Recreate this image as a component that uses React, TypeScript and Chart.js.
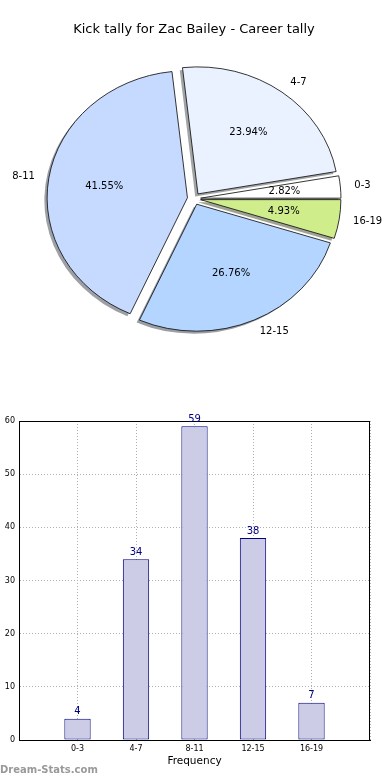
import React, { useEffect, useRef } from 'react';
import { Chart, registerables } from 'chart.js';

Chart.register(...registerables);

const TITLE = 'Kick tally for Zac Bailey - Career tally';
const CATEGORIES = ['0-3', '4-7', '8-11', '12-15', '16-19'];
const KICKS = [4, 34, 59, 38, 7];
const PIE_COLORS = ['#ffffff', '#eaf2ff', '#c6d9ff', '#b3d5ff', '#d0ed8c'];
const Y_TICKS = [0, 10, 20, 30, 40, 50, 60];
const X_TITLE = 'Frequency';
const WATERMARK = 'Dream-Stats.com';

const FONT = 'DejaVu Sans';
const SX = 1.105; // horizontal stretch of the pie (elliptical, as in the source)
const EXPLODE = 6;
const SHADOW_DX = -2.5;
const SHADOW_DY = 2.5;

function shadowColor(hex: string) {
  const n = parseInt(hex.slice(1), 16);
  const r = Math.round(((n >> 16) & 255) * 0.3);
  const g = Math.round(((n >> 8) & 255) * 0.3);
  const b = Math.round((n & 255) * 0.3);
  return `rgba(${r},${g},${b},0.5)`;
}

// pie is drawn clockwise in Chart.js, matplotlib draws counter-clockwise
const PIE_LABELS = [...CATEGORIES].reverse();
const PIE_VALUES = [...KICKS].reverse();
const PIE_BG = [...PIE_COLORS].reverse();

const piePlugin = {
  id: 'pieDraw',
  beforeDatasetsDraw(chart: any) {
    const ctx = chart.ctx;
    const arcs = chart.getDatasetMeta(0).data;
    if (!arcs.length) return false;
    const cx = arcs[0].x;
    const cy = arcs[0].y;
    ctx.save();
    ctx.translate(cx, cy);
    ctx.scale(SX, 1);
    ctx.translate(-cx, -cy);
    arcs.forEach((arc: any, i: number) => {
      const mid = (arc.startAngle + arc.endAngle) / 2;
      const ox = EXPLODE * Math.cos(mid) + SHADOW_DX;
      const oy = EXPLODE * Math.sin(mid) + SHADOW_DY;
      ctx.beginPath();
      ctx.moveTo(arc.x + ox, arc.y + oy);
      ctx.arc(arc.x + ox, arc.y + oy, arc.outerRadius, arc.startAngle, arc.endAngle);
      ctx.closePath();
      ctx.fillStyle = shadowColor(PIE_BG[i]);
      ctx.fill();
    });
    arcs.forEach((arc: any) => {
      const mid = (arc.startAngle + arc.endAngle) / 2;
      ctx.save();
      ctx.translate(EXPLODE * Math.cos(mid), EXPLODE * Math.sin(mid));
      arc.draw(ctx);
      ctx.restore();
    });
    ctx.restore();
    return false;
  },
  afterDraw(chart: any) {
    const ctx = chart.ctx;
    const arcs = chart.getDatasetMeta(0).data;
    const total = PIE_VALUES.reduce((a, b) => a + b, 0);
    ctx.save();
    ctx.font = `10px "${FONT}"`;
    ctx.fillStyle = '#000';
    ctx.textBaseline = 'middle';
    arcs.forEach((arc: any, i: number) => {
      const cx = arc.x;
      const cy = arc.y;
      const mid = (arc.startAngle + arc.endAngle) / 2;
      const c = Math.cos(mid);
      const s = Math.sin(mid);
      const r = arc.outerRadius;
      const px = (k: number) => cx + SX * (EXPLODE * c + k * r * c);
      const py = (k: number) => cy + EXPLODE * s + k * r * s;
      ctx.textAlign = 'center';
      ctx.fillText(((PIE_VALUES[i] / total) * 100).toFixed(2) + '%', px(0.6), py(0.6));
      ctx.textAlign = c > 0 ? 'left' : 'right';
      ctx.fillText(PIE_LABELS[i], px(1.1), py(1.1));
    });
    ctx.restore();
  },
};

const barPlugin = {
  id: 'barExtras',
  afterDraw(chart: any) {
    const ctx = chart.ctx;
    const { left, right, top, bottom } = chart.chartArea;
    ctx.save();
    ctx.strokeStyle = '#000';
    ctx.lineWidth = 1;
    ctx.strokeRect(Math.round(left) + 0.5, Math.round(top) + 0.5, Math.round(right - left) - 1, Math.round(bottom - top));
    const bars = chart.getDatasetMeta(0).data;
    ctx.font = `10px "${FONT}"`;
    ctx.fillStyle = '#000080';
    ctx.textAlign = 'center';
    ctx.textBaseline = 'bottom';
    bars.forEach((bar: any, i: number) => {
      ctx.fillText(String(KICKS[i]), bar.x, bar.y - 2);
    });
    ctx.font = `bold 10px "${FONT}"`;
    ctx.fillStyle = '#999999';
    ctx.textAlign = 'left';
    ctx.textBaseline = 'middle';
    ctx.fillText(WATERMARK, 0, chart.height - 10);
    ctx.restore();
  },
};

export default function App() {
  const pieRef = useRef<HTMLCanvasElement>(null);
  const barRef = useRef<HTMLCanvasElement>(null);

  useEffect(() => {
    const pie = new Chart(pieRef.current as HTMLCanvasElement, {
      type: 'pie',
      data: {
        labels: PIE_LABELS,
        datasets: [
          {
            data: PIE_VALUES,
            backgroundColor: PIE_BG,
            borderColor: '#111',
            borderWidth: 0.8,
            offset: 0,
          },
        ],
      },
      options: {
        responsive: false,
        animation: false,
        events: [],
        rotation: 90,
        radius: 127,
        layout: { padding: { top: 0, left: 0, right: 2, bottom: 40.4 } },
        plugins: {
          legend: { display: false },
          tooltip: { enabled: false },
          title: {
            display: true,
            text: TITLE,
            color: '#000',
            font: { family: FONT, size: 13, weight: 'normal' },
            padding: { top: 22.2, bottom: 0 },
          },
        },
      } as any,
      plugins: [piePlugin],
    });

    const bar = new Chart(barRef.current as HTMLCanvasElement, {
      type: 'bar',
      data: {
        datasets: [
          {
            data: CATEGORIES.map((_, i) => ({ x: i, y: KICKS[i] })),
            backgroundColor: '#ccccE6',
            borderColor: '#000080',
            borderWidth: 1,
            borderSkipped: false,
            barPercentage: 0.45,
            categoryPercentage: 1,
          },
        ],
      },
      options: {
        responsive: false,
        animation: false,
        events: [],
        layout: { padding: { top: 21, right: 20, left: 0, bottom: 0 } },
        plugins: { legend: { display: false }, tooltip: { enabled: false } },
        scales: {
          x: {
            type: 'linear',
            min: -1,
            max: CATEGORIES.length,
            offset: false,
            z: 1,
            afterFit: (s: any) => {
              s.height = 40;
            },
            ticks: {
              stepSize: 1,
              autoSkip: false,
              maxRotation: 0,
              padding: 4,
              color: '#000',
              font: { family: FONT, size: 8 },
              callback: (v: any) => CATEGORIES[v] ?? '',
            },
            grid: { color: '#b0b0b0', lineWidth: 1, drawTicks: false, offset: false },
            border: { display: true, color: '#000', width: 1, dash: [1, 2] },
            title: {
              display: true,
              text: X_TITLE,
              color: '#000',
              font: { family: FONT, size: 10.5 },
              padding: { top: 0, bottom: 12.7 },
            },
          },
          y: {
            min: Y_TICKS[0],
            max: Y_TICKS[Y_TICKS.length - 1],
            z: 1,
            afterFit: (s: any) => {
              s.width = 19;
            },
            ticks: {
              stepSize: Y_TICKS[1] - Y_TICKS[0],
              padding: 4,
              color: '#000',
              font: { family: FONT, size: 8 },
            },
            grid: { color: '#b0b0b0', lineWidth: 1, drawTicks: false },
            border: { display: true, color: '#000', width: 1, dash: [1, 2] },
          },
        },
      } as any,
      plugins: [barPlugin],
    });

    return () => {
      pie.destroy();
      bar.destroy();
    };
  }, []);

  return (
    <div style={{ position: 'absolute', left: 0, top: 0, width: 390, height: 780, background: '#fff' }}>
      <canvas ref={pieRef} width={390} height={400} style={{ position: 'absolute', left: 0, top: 0 }} />
      <canvas ref={barRef} width={390} height={380} style={{ position: 'absolute', left: 0, top: 400 }} />
    </div>
  );
}
